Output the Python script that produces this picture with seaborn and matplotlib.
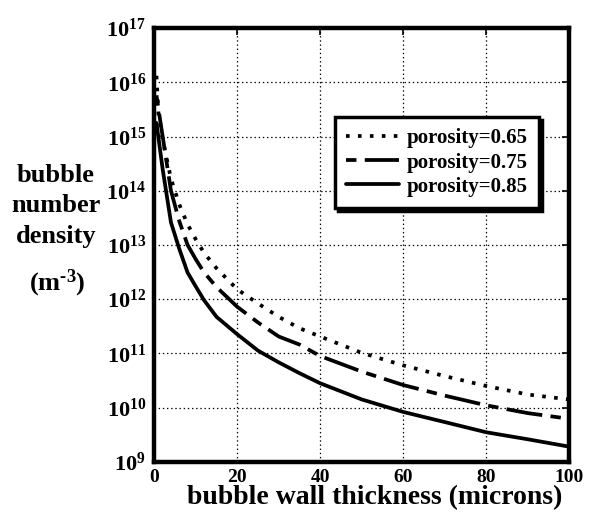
import numpy as np
import pandas as pd
import matplotlib
matplotlib.use("Agg")
import matplotlib.pyplot as plt
import seaborn as sns

# ---- data ----
thickness = [0.5, 1, 2, 4, 6, 8, 10, 12, 15, 20, 25, 30, 35, 40, 50, 60, 70, 80, 90, 100]
density_065 = [1.32e16, 2.51e15, 8.9e14, 1.66e14, 5.6e13, 2.4e13, 1.26e13, 7.1e12, 3.7e12, 1.51e12,
               8.3e11, 4.7e11, 2.9e11, 2.04e11, 1.02e11, 6.0e10, 3.8e10, 2.5e10, 1.74e10, 1.41e10]
density_075 = [5.75e15, 3.16e15, 1.0e15, 1.0e14, 2.75e13, 1.0e13, 5.4e12, 3.1e12, 1.66e12, 7.2e11,
               3.7e11, 2.04e11, 1.45e11, 8.9e10, 4.6e10, 2.6e10, 1.66e10, 1.1e10, 7.9e9, 6.2e9]
density_085 = [1.78e15, 9.3e14, 2.5e14, 2.6e13, 8.5e12, 3.1e12, 1.7e12, 9.5e11, 4.7e11, 2.24e11,
               1.12e11, 6.8e10, 4.3e10, 2.8e10, 1.41e10, 8.3e9, 5.4e9, 3.5e9, 2.6e9, 1.9e9]
series_labels = ["porosity=0.65", "porosity=0.75", "porosity=0.85"]
x_ticks = [0, 20, 40, 60, 80, 100]
y_ticks = [1e9, 1e10, 1e11, 1e12, 1e13, 1e14, 1e15, 1e16, 1e17]

df = pd.concat([
    pd.DataFrame({"t": thickness, "n": vals, "series": lab})
    for vals, lab in zip([density_065, density_075, density_085], series_labels)
])

sns.set_theme(style="white")
plt.rcParams["font.family"] = ["Liberation Serif", "DejaVu Serif"]
plt.rcParams["font.weight"] = "bold"
plt.rcParams["text.color"] = "black"
plt.rcParams["axes.labelcolor"] = "black"
plt.rcParams["xtick.color"] = "black"
plt.rcParams["ytick.color"] = "black"
plt.rcParams["mathtext.fontset"] = "custom"
plt.rcParams["mathtext.rm"] = "Liberation Serif:bold"
plt.rcParams["mathtext.bf"] = "Liberation Serif:bold"
plt.rcParams["mathtext.it"] = "Liberation Serif:bold:italic"
plt.rcParams["lines.scale_dashes"] = False

fig = plt.figure(figsize=(5.96, 5.2), dpi=100)
ax = fig.add_axes([0.259, 0.112, 0.696, 0.834])

dash_map = {
    "porosity=0.65": (2.6, 6.0),
    "porosity=0.75": (7.5, 6.0, 26.0, 6.0),
    "porosity=0.85": "",
}
sns.lineplot(data=df, x="t", y="n", hue="series", style="series",
             palette=["black"] * 3, dashes=dash_map, linewidth=2.7,
             ax=ax, legend=True)

ax.set_yscale("log")
ax.set_xlim(0, 100)
ax.set_ylim(1e9, 1e17)
ax.set_xticks(x_ticks)
ax.set_yticks(y_ticks)
ax.yaxis.set_minor_locator(matplotlib.ticker.NullLocator())
ax.set_xticklabels([str(v) for v in x_ticks], fontsize=14, fontweight="bold")
ax.set_yticklabels([r"$10^{%d}$" % int(np.log10(v)) for v in y_ticks], fontsize=16)
ax.tick_params(axis="x", pad=5)
ax.tick_params(axis="y", pad=6)
ax.tick_params(direction="in", length=5, width=1.2, top=True, right=True,
               colors="black", labelcolor="black")
ax.grid(True, color="black", linestyle=(0, (1, 2)), linewidth=0.9)
for s in ax.spines.values():
    s.set_linewidth(3.2)
    s.set_color("black")

ax.set_xlabel("")
ax.set_ylabel("")
fig.text(375 / 596, 1 - 498 / 520, "bubble wall thickness (microns)", ha="center", va="center",
         fontsize=20, fontweight="bold", color="black")
for txt, yy in [("bubble", 175), ("number", 206), ("density", 237)]:
    fig.text(56 / 596, 1 - yy / 520, txt, ha="center", va="center",
             fontsize=19, fontweight="bold", color="black")
fig.text(57 / 596, 1 - 283 / 520, r"(m$^{\text{-3}}$)", ha="center", va="center",
         fontsize=19, fontweight="bold", color="black")

handles, labels = ax.get_legend_handles_labels()
leg = ax.legend(handles, labels, loc="upper left", bbox_to_anchor=(0.435, 0.795),
                frameon=True, fancybox=False, framealpha=1, edgecolor="black",
                prop={"family": "Liberation Serif", "weight": "bold", "size": 15},
                handlelength=2.55, handletextpad=0.35, labelspacing=0.2,
                borderpad=0.55, borderaxespad=0,
                shadow={"color": "black", "alpha": 1, "ox": 2, "oy": -2})
leg.get_frame().set_linewidth(2.5)
for line in leg.get_lines():
    line.set_linewidth(2.7)

fig.savefig("out.png", dpi=100, facecolor="white")
